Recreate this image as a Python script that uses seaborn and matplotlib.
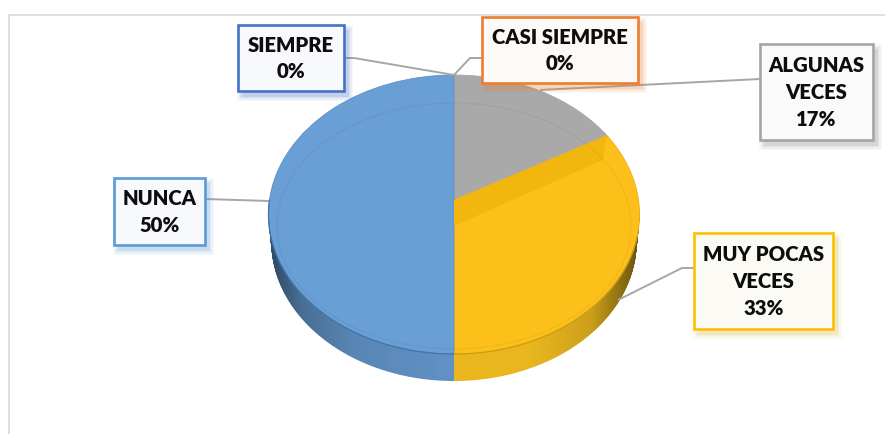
import numpy as np
import seaborn as sns
from matplotlib import pyplot as plt
from matplotlib.patches import Ellipse, Polygon, Rectangle
from matplotlib.path import Path
from matplotlib.transforms import Transform

categories = ['SIEMPRE', 'CASI SIEMPRE', 'ALGUNAS\nVECES', 'MUY POCAS\nVECES', 'NUNCA']
percentages = [0, 0, 17, 33, 50]

top_hex = ['#4472C4', '#ED7D31', '#A9A9A9', '#FDC01B', '#6A9FD5']
edge_hex = ['#4472C4', '#ED7D31', '#A5A5A5', '#FFC000', '#5B9BD5']
rim_hex = ['#4472C4', '#ED7D31', '#A5A5A5', '#EDB514', '#5C90C6']
seam_hex = ['#3F74A8', '#C99C14']
side_hex = ['#4472C4', '#ED7D31', '#A5A5A5', '#F0BC1F', '#6497CC']
face_hex = ['#F7F9FC', '#FDF9F6', '#FAFAFA', '#FCFAF5', '#F7F9FC']
shadow_hex = ['#4472C4', '#ED7D31', '#808080', '#D9B84A', '#5B9BD5']

# box left, top, right, bottom in pixels
boxes = [(238, 25, 344, 91), (482, 17, 638, 83), (760, 44, 873, 140),
         (694, 233, 833, 329), (114, 178, 205, 245)]
leaders = [[(344, 58), (354, 58), (454, 75)],
           [(482, 58), (470, 58), (454, 75)],
           [(760, 79), (540, 90)],
           [(694, 268), (682, 268), (618, 300)],
           [(205, 199), (269, 201)]]


# projects the flat unit pie onto the tilted disc seen in the picture
class TiltedDisc(Transform):
    input_dims = 2
    output_dims = 2

    def __init__(self, drop=0.0, shrink=1.0):
        super().__init__()
        self.drop = drop
        self.shrink = shrink

    def transform_non_affine(self, values):
        values = np.asarray(values)
        u, v = values[:, 0], values[:, 1]
        w = 1 + 0.104 * v
        x = 454 + 184.5 * self.shrink * u / w
        y = 200 + self.drop - 138 * v / w
        return np.column_stack([x, y])


def draw_pie(colors, tilt, zorder, rims=None):
    wedges, _ = ax.pie(percentages, colors=colors, startangle=90, counterclock=False,
                       wedgeprops={'linewidth': 0})
    for i, wedge in enumerate(wedges):
        wedge.set_transform(tilt + ax.transData)
        wedge.set_zorder(zorder)
        if rims:
            wedge.set_edgecolor(rims[i])
            wedge.set_linewidth(0.6)


sns.set_theme(style='white')
plt.rcParams['font.family'] = ['Lato', 'DejaVu Sans']

fig = plt.figure(figsize=(8.85, 4.34), dpi=100)
ax = fig.add_axes([0, 0, 1, 1])
side_colors = sns.color_palette(side_hex)
top_colors = sns.color_palette(top_hex)

# side wall: stacked copies of the pie going down
depth = 27
wall_paths = []
for step in range(depth, 0, -1):
    tilt = TiltedDisc(drop=step, shrink=1 - 0.015 * step / depth)
    draw_pie(side_colors, tilt, 2)
    wall_paths.append(tilt.transform_path(Path.unit_circle()))

# darkening of the wall towards both sides
shade = np.zeros((2, 885, 4))
shade[:, :, 3] = np.interp(np.arange(885), [273, 300, 350, 454, 530, 590, 637],
                           [0.5, 0.28, 0.12, 0.03, 0.03, 0.15, 0.55])
image = ax.imshow(shade, extent=(0, 885, 434, 0), aspect='auto', zorder=3)
image.set_clip_path(Path.make_compound_path(*wall_paths), ax.transData)

# top face
draw_pie(top_colors, TiltedDisc(), 4, sns.color_palette(rim_hex))
ax.add_patch(Polygon([(454, 200), (607, 135), (603, 160), (454, 226)],
                     closed=True, facecolor='#F2B70F', edgecolor='none', zorder=5))
ax.add_patch(Ellipse((454, 226), 354, 246, facecolor='none', edgecolor='black',
                     alpha=0.05, linewidth=0.8, zorder=5))

# darker seam where the top face meets the wall
for seam_color, start, stop in [(seam_hex[0], 180, 270), (seam_hex[1], 270, 345)]:
    angles = np.radians(np.arange(start, stop + 1))
    seam = TiltedDisc().transform_non_affine(np.column_stack([np.cos(angles), np.sin(angles)]))
    ax.plot(seam[:, 0], seam[:, 1], color=seam_color, linewidth=0.9, zorder=5)

# chart frame
ax.plot([9, 9, 885], [434, 15, 15], color='#D9D9D9', linewidth=1.2, zorder=1)

for points in leaders:
    xs, ys = zip(*points)
    ax.plot(xs, ys, color='#A6A6A6', linewidth=1.4, zorder=6, solid_capstyle='butt')

for i, name in enumerate(categories):
    left, top, right, bottom = boxes[i]
    # soft shadow under the label box
    for grow, alpha in [(5, 0.05), (3.5, 0.07), (2, 0.1), (0.5, 0.14)]:
        ax.add_patch(Rectangle((left + 4 - grow, top + 5 - grow), right - left + 2 * grow,
                               bottom - top + 2 * grow, facecolor=shadow_hex[i],
                               edgecolor='none', alpha=alpha, zorder=7))
    ax.add_patch(Rectangle((left, top), right - left, bottom - top, facecolor=face_hex[i],
                           edgecolor=edge_hex[i], linewidth=1.9, zorder=8))
    ax.text((left + right) / 2, (top + bottom) / 2 + 0.5,
            f'{name}\n{percentages[i]}%', ha='center', va='center', fontsize=14.6,
            fontweight='heavy', color='#0D0D0D', linespacing=1.5, zorder=9)

ax.set_aspect('auto')
ax.set_xlim(0, 885)
ax.set_ylim(434, 0)
ax.axis('off')

plt.savefig('out.png', dpi=100)
